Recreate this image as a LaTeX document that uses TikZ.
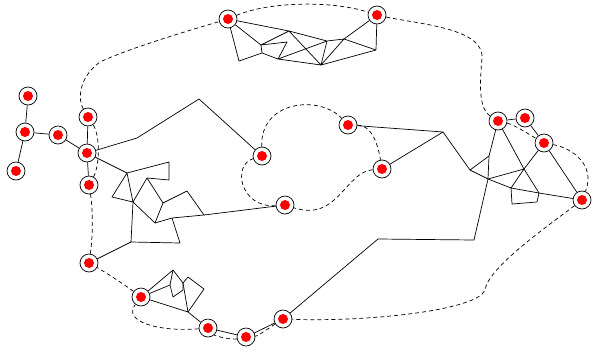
\documentclass[tikz,border=0pt]{standalone}
\begin{document}
\begin{tikzpicture}[x=1pt,y=-1pt,
  site/.style={circle,draw,fill=white,line width=0.7pt,minimum size=18pt,inner sep=0pt,
    path picture={\fill[red] (path picture bounding box.center) circle (5pt);}},
  link/.style={line width=0.7pt,line join=round},
  tour/.style={line width=0.7pt,dash pattern=on 4pt off 3pt}]
\useasboundingbox (0,0) rectangle (593,351);
% sites
\node[site] (a1) at (28,96) {};
\node[site] (a2) at (25,132) {};
\node[site] (a3) at (16,171) {};
\node[site] (a4) at (58,135) {};
\node[site] (u) at (88,117) {};
\node[site] (h) at (87,153) {};
\node[site] (w) at (89,185) {};
\node[site] (v) at (89,263) {};
\node[site] (g1) at (141,297) {};
\node[site] (g2) at (208,328) {};
\node[site] (g3) at (246,337) {};
\node[site] (g4) at (283,319) {};
\node[site] (c1) at (262,156) {};
\node[site] (c2) at (348,125) {};
\node[site] (c3) at (382,169) {};
\node[site] (c4) at (285,205) {};
\node[site] (t1) at (228,19) {};
\node[site] (t2) at (377,15) {};
\node[site] (n1) at (498,121) {};
\node[site] (n2) at (525,118) {};
\node[site] (n3) at (544,143) {};
\node[site] (n4) at (582,200) {};
% mesh points
\coordinate (k1) at (137,138);
\coordinate (k2) at (199,99);
\coordinate (m1) at (127,173);
\coordinate (m2) at (169,162);
\coordinate (m3) at (169,180);
\coordinate (m4) at (147,178);
\coordinate (m5) at (112,197);
\coordinate (m6) at (133,202);
\coordinate (m7) at (163,203);
\coordinate (m8) at (155,223);
\coordinate (m9) at (187,191);
\coordinate (m10) at (204,215);
\coordinate (m11) at (172,218);
\coordinate (m12) at (180,243);
\coordinate (m13) at (131,242);
\coordinate (q1) at (239,61);
\coordinate (q2) at (261,45);
\coordinate (q3) at (262,53);
\coordinate (q4) at (287,42);
\coordinate (q5) at (278,59);
\coordinate (q6) at (289,31);
\coordinate (q7) at (327,41);
\coordinate (q8) at (321,65);
\coordinate (q9) at (344,39);
\coordinate (q10) at (376,50);
\coordinate (rh) at (443,132);
\coordinate (p1) at (470,170);
\coordinate (p2) at (489,156);
\coordinate (p3) at (488,179);
\coordinate (p4) at (524,169);
\coordinate (p5) at (511,188);
\coordinate (p6) at (539,193);
\coordinate (p7) at (537,202);
\coordinate (p8) at (512,204);
\coordinate (pb) at (474,240);
\coordinate (pc) at (378,239);
\coordinate (e1) at (173,270);
\coordinate (e2) at (170,285);
\coordinate (e3) at (173,297);
\coordinate (e4) at (183,290);
\coordinate (e5) at (183,283);
\coordinate (e6) at (188,277);
\coordinate (e7) at (204,289);
\coordinate (e8) at (188,312);
\coordinate (bend1) at (482,58);
\coordinate (bend2) at (485,290);
\coordinate (bend3) at (100,62);
% solid links
\draw[link] (a1) -- (a2) -- (a3);
\draw[link] (a2) -- (a4) -- (h);
\draw[link] (u) -- (h) -- (w);
\draw[link] (h) -- (k1) -- (k2) -- (c1);
\draw[link] (h) -- (m1);
\draw[link] (m1) -- (m2) -- (m3) -- (m4) -- (m6);
\draw[link] (m1) -- (m5) -- (m6) -- (m1);
\draw[link] (m4) -- (m7) -- (m8) -- (m6);
\draw[link] (m7) -- (m9) -- (m10) -- (m11) -- (m8);
\draw[link] (m11) -- (m12) -- (m13) -- (m6);
\draw[link] (m13) -- (v);
\draw[link] (m10) -- (c4);
\draw[link] (t1) -- (q1) -- (q3) -- (q2) -- (t1);
\draw[link] (t1) -- (q6) -- (q2) -- (q4) -- (q5) -- (q3);
\draw[link] (q5) -- (q7) -- (q6) -- (q8) -- (q7) -- (q9) -- (q8) -- (q5);
\draw[link] (q8) -- (q10) -- (q9) -- (t2) -- (q10);
\draw[link] (c2) -- (rh) -- (c3);
\draw[link] (rh) -- (p1) -- (p2);
\draw[link] (p1) -- (p3);
\draw[link] (n1) -- (p2) -- (p3) -- (pb) -- (pc) -- (g4);
\draw[link] (n1) -- (n2) -- (n3) -- (n4);
\draw[link] (n1) -- (p4) -- (p6) -- (n4);
\draw[link] (n3) -- (p4) -- (p3) -- (p5) -- (p4);
\draw[link] (p5) -- (p6) -- (p7) -- (p8) -- (p5);
\draw[link] (g1) -- (e1) -- (e5) -- (e8) -- (g1);
\draw[link] (g1) -- (e2) -- (e1);
\draw[link] (e2) -- (e3) -- (e4) -- (e5);
\draw[link] (e5) -- (e6) -- (e7) -- (e8);
\draw[link] (e8) -- (g2) -- (g3) -- (g4);
% dashed tours
\draw[tour] (t1) .. controls (268,2) and (330,0) .. (t2)
  .. controls (418,24) and (484,28) .. (bend1)
  .. controls (480,82) and (478,108) .. (n1)
  .. controls (515,125) and (530,135) .. (n3)
  .. controls (572,148) and (596,165) .. (n4)
  .. controls (545,228) and (488,268) .. (bend2)
  .. controls (478,310) and (370,322) .. (g4)
  .. controls (272,326) and (258,336) .. (g3)
  .. controls (232,340) and (215,336) .. (g2)
  .. controls (160,332) and (122,322) .. (g1)
  .. controls (125,285) and (105,272) .. (v)
  .. controls (93,235) and (93,210) .. (w)
  .. controls (100,165) and (100,135) .. (u)
  .. controls (78,100) and (78,78) .. (bend3)
  .. controls (125,50) and (180,33) .. (t1);
\draw[tour] (c1) .. controls (260,100) and (320,95) .. (c2)
  .. controls (372,125) and (378,145) .. (c3)
  .. controls (345,172) and (338,222) .. (c4)
  .. controls (240,208) and (232,165) .. (c1);
\end{tikzpicture}
\end{document}
